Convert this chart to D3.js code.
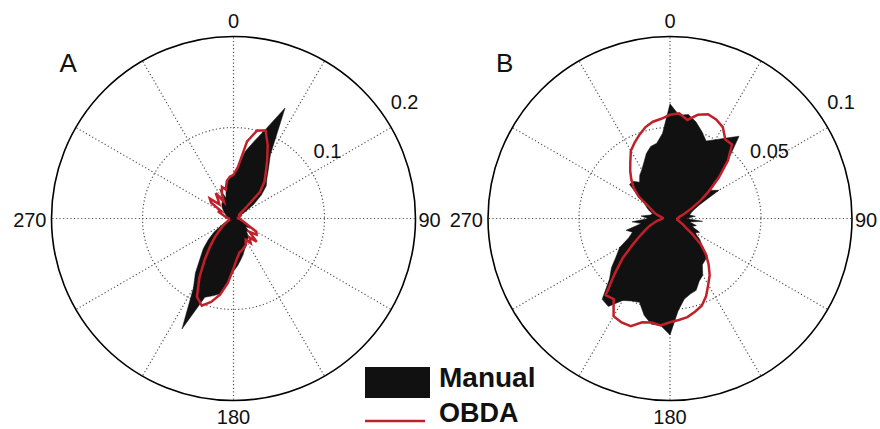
<!DOCTYPE html>
<html>
<head>
<meta charset="utf-8">
<script src="https://cdn.jsdelivr.net/npm/d3@7"></script>
<style>
  html, body { margin: 0; padding: 0; background: #fff; }
  svg { display: block; font-family: "Liberation Sans", Arial, sans-serif; }
</style>
</head>
<body>
<svg id="chart" width="880" height="429"></svg>
<script>
// ---- Data (angle in degrees, clockwise from north; values = relative frequency) ----
const angles = [0,5,10,15,20,25,30,35,40,45,50,55,60,65,70,75,80,85,90,95,100,105,110,115,
  120,125,130,135,140,145,150,155,160,165,170,175,180,185,190,195,200,205,210,215,220,225,230,235,
  240,245,250,255,260,265,270,275,280,285,290,295,300,305,310,315,320,325,330,335,340,345,350,355];

const manualA = [0.048,0.057,0.075,0.088,0.105,0.134,0.081,0.067,0.057,0.051,0.040,0.027,
  0.015,0.009,0.007,0.005,0.005,0.004,0.004,0.005,0.007,0.009,0.011,0.015,
  0.021,0.016,0.024,0.020,0.026,0.027,0.030,0.033,0.036,0.041,0.046,0.052,
  0.058,0.069,0.084,0.088,0.092,0.134,0.088,0.073,0.057,0.047,0.036,0.026,
  0.016,0.010,0.007,0.005,0.004,0.004,0.004,0.005,0.005,0.007,0.008,0.009,
  0.011,0.013,0.015,0.018,0.020,0.022,0.019,0.036,0.024,0.032,0.041,0.046];

const obdaA = [0.048,0.057,0.086,0.100,0.103,0.089,0.074,0.062,0.053,0.041,0.015,0.008,
  0.007,0.007,0.008,0.007,0.005,0.005,0.005,0.007,0.008,0.010,0.013,0.018,
  0.029,0.031,0.023,0.036,0.027,0.033,0.027,0.032,0.034,0.036,0.038,0.044,
  0.055,0.071,0.085,0.095,0.102,0.095,0.075,0.055,0.040,0.029,0.020,0.014,
  0.010,0.007,0.005,0.005,0.005,0.005,0.005,0.007,0.008,0.010,0.013,0.019,
  0.014,0.030,0.034,0.022,0.026,0.034,0.021,0.030,0.037,0.033,0.042,0.046];

const manualB = [0.063,0.057,0.058,0.055,0.051,0.047,0.050,0.054,0.059,0.045,0.035,0.027,
  0.031,0.018,0.014,0.012,0.011,0.014,0.009,0.018,0.011,0.015,0.013,0.018,
  0.016,0.020,0.023,0.029,0.030,0.031,0.036,0.038,0.042,0.043,0.045,0.051,
  0.064,0.059,0.059,0.055,0.049,0.050,0.052,0.059,0.058,0.047,0.042,0.036,
  0.032,0.025,0.022,0.025,0.016,0.021,0.012,0.016,0.011,0.010,0.012,0.014,
  0.016,0.021,0.029,0.029,0.026,0.029,0.031,0.034,0.038,0.041,0.042,0.047];

const obdaB = [0.057,0.058,0.055,0.059,0.061,0.060,0.058,0.053,0.053,0.045,0.035,0.026,
  0.019,0.013,0.009,0.007,0.005,0.005,0.004,0.004,0.004,0.005,0.006,0.008,
  0.010,0.015,0.022,0.028,0.033,0.038,0.042,0.047,0.051,0.053,0.055,0.056,
  0.057,0.059,0.058,0.059,0.063,0.063,0.062,0.054,0.055,0.043,0.034,0.025,
  0.019,0.015,0.012,0.009,0.007,0.005,0.004,0.004,0.005,0.007,0.009,0.011,
  0.014,0.021,0.026,0.030,0.034,0.038,0.043,0.046,0.049,0.052,0.054,0.055];

const angleTicks = [0, 90, 180, 270];
const spokeAngles = [0,30,60,90,120,150,180,210,240,270,300,330];
const rTicksA = [0.1, 0.2];
const rTicksB = [0.05, 0.1];
const panelLabels = ["A", "B"];
const legendLabels = ["Manual", "OBDA"];

// ---- Drawing ----
const svg = d3.select("#chart");
const R = 182;
const FILL = "#111111";
const RED = "#c0202a";
const GRID = "#555";

const panels = [
  { cx: 233.5, cy: 218.5, rmax: 0.2, ticks: rTicksA, manual: manualA, obda: obdaA, label: panelLabels[0] },
  { cx: 670,   cy: 218.5, rmax: 0.1, ticks: rTicksB, manual: manualB, obda: obdaB, label: panelLabels[1] }
];

panels.forEach(p => {
  const g = svg.append("g").attr("transform", `translate(${p.cx},${p.cy})`);
  const r = d3.scaleLinear().domain([0, p.rmax]).range([0, R]);
  const toRad = d => d * Math.PI / 180;

  // dotted inner circles
  p.ticks.slice(0, -1).forEach(t => {
    g.append("circle").attr("r", r(t)).attr("fill", "none")
      .attr("stroke", GRID).attr("stroke-width", 1.2).attr("stroke-dasharray", "1.2,2.4");
  });
  // dotted spokes
  spokeAngles.forEach(a => {
    g.append("line")
      .attr("x1", 0).attr("y1", 0)
      .attr("x2", r(p.rmax) * Math.sin(toRad(a)))
      .attr("y2", -r(p.rmax) * Math.cos(toRad(a)))
      .attr("stroke", GRID).attr("stroke-width", 1.2).attr("stroke-dasharray", "1.2,2.4");
  });

  // Manual (filled)
  const radial = d3.lineRadial()
    .angle((d, i) => toRad(angles[i]))
    .radius(d => r(d))
    .curve(d3.curveLinearClosed);
  g.append("path").datum(p.manual).attr("d", radial)
    .attr("fill", FILL).attr("stroke", FILL).attr("stroke-width", 0.5);

  // OBDA (line)
  g.append("path").datum(p.obda).attr("d", radial)
    .attr("fill", "none").attr("stroke", RED).attr("stroke-width", 2.5)
    .attr("stroke-linejoin", "miter");

  // outer circle
  g.append("circle").attr("r", r(p.rmax)).attr("fill", "none")
    .attr("stroke", "#000").attr("stroke-width", 1.6);

  // radial tick labels
  p.ticks.forEach(t => {
    const rt = r(t);
    g.append("text")
      .attr("x", 0.847 * rt + 3)
      .attr("y", -0.538 * rt - 12)
      .attr("font-size", 20).attr("fill", "#111")
      .text(t);
  });

  // angle labels
  angleTicks.forEach(a => {
    const t = g.append("text").attr("font-size", 20).attr("fill", "#111").text(a);
    if (a === 0) t.attr("x", 0).attr("y", -R - 9).attr("text-anchor", "middle");
    if (a === 180) t.attr("x", 0).attr("y", R + 23).attr("text-anchor", "middle");
    if (a === 90) t.attr("x", R + 3).attr("y", 8).attr("text-anchor", "start");
    if (a === 270) t.attr("x", -R - 5).attr("y", 8).attr("text-anchor", "end");
  });

  // panel letter
  g.append("text").attr("x", -R + 8).attr("y", -146.5)
    .attr("font-size", 26).attr("fill", "#111").text(p.label);
});

// legend
const lg = svg.append("g");
lg.append("rect").attr("x", 365).attr("y", 367).attr("width", 65).attr("height", 31).attr("fill", FILL);
lg.append("text").attr("x", 439).attr("y", 387).attr("font-size", 28).attr("font-weight", "bold")
  .attr("fill", "#111").text(legendLabels[0]);
lg.append("line").attr("x1", 365).attr("x2", 425).attr("y1", 421).attr("y2", 421)
  .attr("stroke", RED).attr("stroke-width", 2.5);
lg.append("text").attr("x", 439).attr("y", 422).attr("font-size", 27).attr("font-weight", "bold")
  .attr("fill", "#111").text(legendLabels[1]);
</script>
</body>
</html>
